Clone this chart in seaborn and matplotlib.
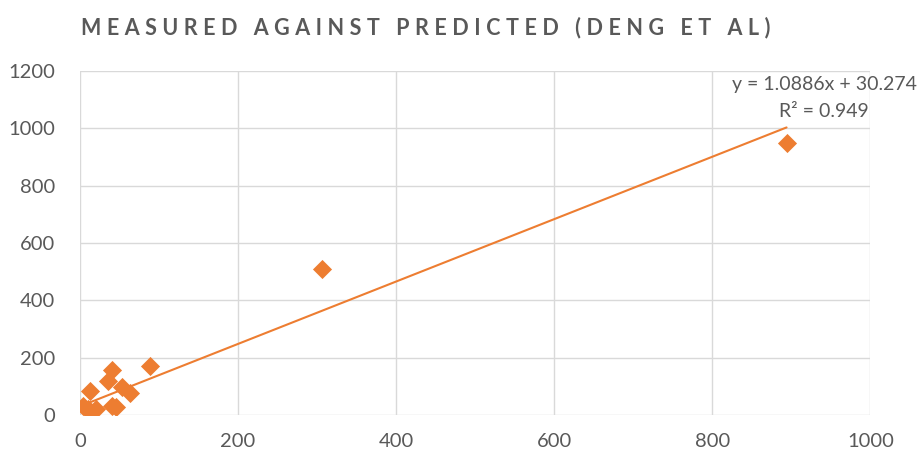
import numpy as np
import pandas as pd
import matplotlib
matplotlib.use("Agg")
import matplotlib.pyplot as plt
import seaborn as sns

sns.set_style("white")
plt.rcParams['font.family'] = ['Lato', 'DejaVu Sans']

# values
predicted = [4, 10, 13, 20, 12, 36, 40, 88, 53, 63, 40, 45, 306, 894]
measured = [30, 20, 10, 20, 85, 120, 158, 170, 97, 75, 32, 28, 509, 950]
slope, intercept, r2 = 1.0886, 30.274, 0.949
title = 'MEASURED AGAINST PREDICTED (DENG ET AL)'

df = pd.DataFrame({'predicted': predicted, 'measured': measured})

orange = '#ED7D31'
grey_txt = '#595959'
grid_col = '#D9D9D9'

fig = plt.figure(figsize=(9.2, 4.59), dpi=100)
ax = fig.add_axes([0.087, 0.096, 0.859, 0.749])

# trendline over the data range
xs = np.array([df['predicted'].min(), df['predicted'].max()])
ax.plot(xs, slope * xs + intercept, color=orange, lw=1.5, zorder=2)

sns.scatterplot(data=df, x='predicted', y='measured', marker='D', s=95,
                color=orange, edgecolor=orange, linewidth=0, ax=ax, zorder=3)

ax.set_xlim(0, 1000)
ax.set_ylim(0, 1200)
ax.set_xticks(range(0, 1001, 200))
ax.set_yticks(range(0, 1201, 200))
ax.grid(True, color=grid_col, lw=1)
ax.set_axisbelow(True)
for s in ax.spines.values():
    s.set_visible(False)
ax.tick_params(axis='both', labelsize=14.5, colors=grey_txt, length=0)
ax.tick_params(axis='x', pad=13)
ax.tick_params(axis='y', pad=18)
ax.set_xlabel('')
ax.set_ylabel('')

# letter-spaced title
spaced = '\u2009\u2009'.join(title)
fig.text(0.463, 0.94, spaced, ha='center', va='center',
         fontsize=15.5, fontweight='bold', color=grey_txt)

fig.text(0.997, 0.815, f'y = {slope}x + {intercept}', ha='right', va='center',
         fontsize=14, color=grey_txt)
fig.text(0.944, 0.757, f'R² = {r2}', ha='right', va='center',
         fontsize=14, color=grey_txt)

fig.savefig('out.png', dpi=100)
